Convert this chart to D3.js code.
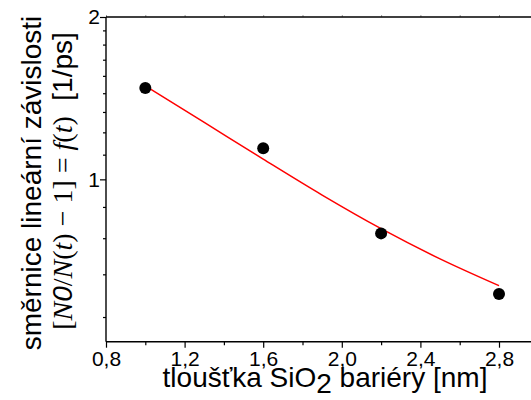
<!DOCTYPE html>
<html>
<head>
<meta charset="utf-8">
<script src="https://cdn.jsdelivr.net/npm/d3@7/dist/d3.min.js"></script>
<style>
  html, body { margin: 0; padding: 0; background: #fff; }
  svg { display: block; }
  .sans { font-family: "Liberation Sans", Arial, sans-serif; }
</style>
</head>
<body>
<svg id="chart" width="531" height="400"></svg>
<script>
// Measured barrier thicknesses [nm] and slopes [1/ps]
const thickness = [1.0, 1.6, 2.2, 2.8];
const slope = [1.477, 1.142, 0.794, 0.613];

// Fitted curve, sampled along the thickness range
const fitThickness = [1.0, 1.3, 1.6, 1.9, 2.2, 2.5, 2.8];
const fitSlope = [1.49, 1.275, 1.09, 0.935, 0.81, 0.712, 0.635];

// Axis ticks
const xTickValues = [0.8, 1.2, 1.6, 2.0, 2.4, 2.8];
const xTickLabels = ["0,8", "1,2", "1,6", "2,0", "2,4", "2,8"];
const xMinorValues = [1.0, 1.4, 1.8, 2.2, 2.6];
const yTickValues = [1, 2];
const yTickLabels = ["1", "2"];
const yMinorValues = [5/9, 6/9, 7/9, 8/9, 10/9, 11/9, 12/9, 13/9, 14/9, 15/9, 16/9, 17/9];

(function draw() {
  const svg = d3.select("#chart");
  const plotLeft = 106, plotTop = 17, plotBottom = 341.7, plotRight = 538.3;

  const x = d3.scaleLinear().domain([0.8, 3.0]).range([plotLeft, plotRight]);
  const y = d3.scaleLog().domain([0.5, 2]).range([plotBottom, plotTop]);

  const axisColor = "#000";

  // Bottom axis: major ticks with labels
  const xAxis = d3.axisBottom(x)
    .tickValues(xTickValues)
    .tickFormat((d, i) => xTickLabels[i])
    .tickSizeInner(6).tickSizeOuter(0).tickPadding(3);
  const gx = svg.append("g").attr("transform", `translate(0,${plotBottom})`).call(xAxis);
  gx.select(".domain").remove();
  gx.selectAll("text").attr("class", "sans").attr("font-size", 21).attr("fill", "#000");
  gx.selectAll("line").attr("stroke", axisColor).attr("stroke-width", 1.2);

  // Bottom axis: minor ticks
  svg.append("g").attr("transform", `translate(0,${plotBottom})`)
    .call(d3.axisBottom(x).tickValues(xMinorValues).tickFormat("").tickSizeInner(3.5).tickSizeOuter(0))
    .call(g => g.select(".domain").remove())
    .selectAll("line").attr("stroke", axisColor).attr("stroke-width", 1.2);

  // Top axis: small ticks
  svg.append("g").attr("transform", `translate(0,${plotTop})`)
    .call(d3.axisTop(x).tickValues(xTickValues.concat(xMinorValues)).tickFormat("").tickSizeInner(2).tickSizeOuter(0))
    .call(g => g.select(".domain").remove())
    .selectAll("line").attr("stroke", "#999").attr("stroke-width", 1);

  // Left axis: major ticks with labels
  const yAxis = d3.axisLeft(y)
    .tickValues(yTickValues)
    .tickFormat((d, i) => yTickLabels[i])
    .tickSizeInner(6).tickSizeOuter(0).tickPadding(0);
  const gy = svg.append("g").attr("transform", `translate(${plotLeft},0)`).call(yAxis);
  gy.select(".domain").remove();
  gy.selectAll("text").attr("class", "sans").attr("font-size", 21).attr("fill", "#000");
  gy.selectAll("line").attr("stroke", axisColor).attr("stroke-width", 1.2);

  // Left axis: minor ticks
  svg.append("g").attr("transform", `translate(${plotLeft},0)`)
    .call(d3.axisLeft(y).tickValues(yMinorValues).tickFormat("").tickSizeInner(3).tickSizeOuter(0))
    .call(g => g.select(".domain").remove())
    .selectAll("line").attr("stroke", axisColor).attr("stroke-width", 1.2);

  // Frame lines
  const frame = svg.append("g").attr("stroke", axisColor).attr("stroke-width", 1.4).attr("fill", "none");
  frame.append("line").attr("x1", plotLeft).attr("x2", plotLeft).attr("y1", plotTop).attr("y2", plotBottom);
  frame.append("line").attr("x1", plotLeft).attr("x2", plotRight).attr("y1", plotBottom).attr("y2", plotBottom);
  frame.append("line").attr("x1", plotLeft).attr("x2", plotRight).attr("y1", plotTop).attr("y2", plotTop);

  // Fitted curve
  const fitData = fitThickness.map((t, i) => [t, fitSlope[i]]);
  svg.append("path")
    .datum(fitData)
    .attr("fill", "none")
    .attr("stroke", "#ff0000")
    .attr("stroke-width", 1.5)
    .attr("d", d3.line().x(d => x(d[0])).y(d => y(d[1])).curve(d3.curveMonotoneX));

  // Measured points
  svg.append("g").selectAll("circle")
    .data(thickness.map((t, i) => [t, slope[i]]))
    .join("circle")
    .attr("cx", d => x(d[0]))
    .attr("cy", d => y(d[1]))
    .attr("r", 6)
    .attr("fill", "#000");

  // X axis title with subscript
  const xt = svg.append("text")
    .attr("class", "sans")
    .attr("x", 325).attr("y", 387)
    .attr("text-anchor", "middle")
    .attr("font-size", 28)
    .attr("fill", "#000");
  xt.append("tspan").text("tloušťka SiO");
  xt.append("tspan").attr("dy", 6).text("2");
  xt.append("tspan").attr("dy", -6).text(" bariéry [nm]");

  // Y axis title, first line
  svg.append("text")
    .attr("class", "sans")
    .attr("transform", "translate(41,183) rotate(-90)")
    .attr("text-anchor", "middle")
    .attr("font-size", 28)
    .attr("fill", "#000")
    .text("směrnice lineární závislosti");

  // Y axis title, second line (formula + unit)
  const yt2 = svg.append("text")
    .attr("transform", "translate(72,181) rotate(-90)")
    .attr("text-anchor", "middle")
    .attr("font-size", 28)
    .attr("fill", "#000");
  const serif = "'Liberation Serif', 'Times New Roman', serif";
  const sans = "'Liberation Sans', Arial, sans-serif";
  const parts = [
    ["[", serif, "normal"], ["N", serif, "italic"], ["0", sans, "italic"],
    ["/", serif, "normal"], ["N", serif, "italic"], ["(", serif, "normal"],
    ["t", serif, "italic"], [") \u2212 1] = ", serif, "normal"], ["f", serif, "italic"],
    ["(", serif, "normal"], ["t", serif, "italic"], [")", serif, "normal"],
    ["\u00a0\u00a0[1/ps]", sans, "normal"]
  ];
  parts.forEach(([txt, fam, style]) => {
    yt2.append("tspan").attr("font-family", fam).attr("font-style", style).text(txt);
  });
})();
</script>
</body>
</html>
